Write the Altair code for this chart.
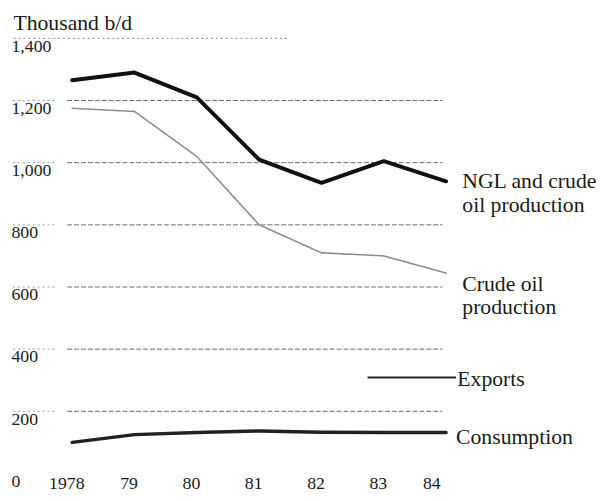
import altair as alt
import pandas as pd

# ---- data ----
years = [1978, 1979, 1980, 1981, 1982, 1983, 1984]
year_labels = ["1978", "79", "80", "81", "82", "83", "84"]
ngl_crude = [1265, 1290, 1210, 1010, 935, 1005, 940]
crude_oil = [1175, 1165, 1020, 800, 710, 700, 645]
consumption = [100, 125, 132, 137, 133, 132, 132]
y_ticks = [0, 200, 400, 600, 800, 1000, 1200, 1400]
grid_values = [200, 400, 600, 800, 1000, 1200]

# annotation texts (x in years, y in thousand b/d)
ann_text = ["NGL and crude", "oil production", "Crude oil", "production", "Exports", "Consumption"]
ann_x = [1984.26, 1984.26, 1984.26, 1984.26, 1984.18, 1984.16]
ann_y = [941, 862, 608, 535, 303, 116]
exports_pointer = {"x": [1982.74], "x2": [1984.16], "y": [309]}

FONT = "Liberation Serif"
INK = "#1a1a1a"

xscale = alt.Scale(domain=[1977.92, 1984.0], nice=False, zero=False)
yscale = alt.Scale(domain=[0, 1400], nice=False, zero=False)

label_expr = ""
for yv, lab in zip(years, year_labels):
    label_expr += f"datum.value == {yv} ? '{lab}' : "
label_expr += "''"

lines = pd.DataFrame({
    "year": years * 3,
    "value": ngl_crude + crude_oil + consumption,
    "series": ["NGL"] * 7 + ["Crude"] * 7 + ["Consumption"] * 7,
})

grid_df = pd.DataFrame({"x": [1977.92] * len(grid_values), "x2": [1983.94] * len(grid_values), "y": grid_values})
stub_df = pd.DataFrame({"x": [1977.05] * len(grid_values), "x2": [1977.76] * len(grid_values), "y": grid_values})
top_df = pd.DataFrame({"x": [1977.06], "x2": [1981.45], "y": [1400]})
ann_df = pd.DataFrame({"text": ann_text, "x": ann_x, "y": ann_y})
exp_df = pd.DataFrame(exports_pointer)

axis_x = alt.Axis(values=years, labelExpr=label_expr, domain=False, ticks=False, grid=False,
                  labelFont=FONT, labelFontSize=18, labelColor=INK, labelPadding=1,
                  labelOffset=-6, title=None)
axis_y = alt.Axis(values=y_ticks, format=",.0f", domain=False, ticks=False, grid=False,
                  labelFont=FONT, labelFontSize=18, labelColor=INK, labelAlign="left",
                  labelPadding=57, labelBaseline="top", labelOffset=-1,
                  title="Thousand b/d", titleAngle=0, titleAlign="left", titleBaseline="alphabetic",
                  titleX=-55, titleY=-9, titleFont=FONT, titleFontSize=22,
                  titleFontWeight="normal", titleColor=INK)

X = lambda f: alt.X(f, scale=xscale, axis=axis_x)
Y = lambda f: alt.Y(f, scale=yscale, axis=axis_y)

grid = alt.Chart(grid_df).mark_rule(color="#6a6a6a", strokeWidth=1, strokeDash=[5, 2]).encode(
    x=X("x:Q"), x2="x2:Q", y=Y("y:Q"),
)
stubs = alt.Chart(stub_df).mark_rule(color="#9a9a9a", strokeWidth=1, strokeDash=[2, 3]).encode(
    x=X("x:Q"), x2="x2:Q", y=Y("y:Q"),
)
topline = alt.Chart(top_df).mark_rule(color="#8a8a8a", strokeWidth=1, strokeDash=[2, 3]).encode(
    x=X("x:Q"), x2="x2:Q", y=Y("y:Q"),
)

def line_layer(name, color, width, dash=None):
    kw = dict(color=color, strokeWidth=width, strokeJoin="round", strokeCap="round")
    if dash:
        kw["strokeDash"] = dash
    return alt.Chart(lines).transform_filter(alt.datum.series == name).mark_line(**kw).encode(
        x=X("year:Q"), y=Y("value:Q"),
    )

ngl = line_layer("NGL", "#111111", 4)
crude = line_layer("Crude", "#8c8c8c", 1.6, [4, 1])
cons = line_layer("Consumption", "#222222", 3.5)

pointer = alt.Chart(exp_df).mark_rule(color="#222222", strokeWidth=2).encode(
    x=X("x:Q"), x2="x2:Q", y=Y("y:Q"),
)
ann = alt.Chart(ann_df).mark_text(font=FONT, fontSize=22, color=INK, align="left", baseline="middle").encode(
    x=X("x:Q"), y=Y("y:Q"), text="text:N",
)

chart = alt.layer(grid, stubs, topline, crude, cons, ngl, pointer, ann).properties(
    width=384, height=441,
    padding={"left": 60, "top": 27.5, "right": 156, "bottom": 16.5},
    autosize=alt.AutoSizeParams(type="none"),
    background="white",
).configure_view(stroke=None).configure_axis(
    labelFont=FONT, titleFont=FONT, labelColor=INK, titleColor=INK
)

chart.save("out.html", embed_options={"renderer": "svg", "actions": False})
